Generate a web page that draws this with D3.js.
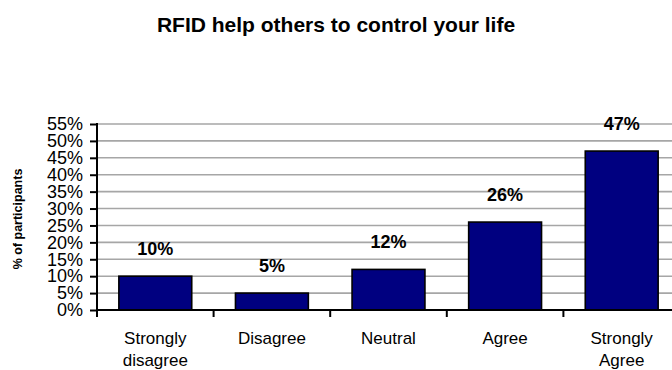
<!DOCTYPE html>
<html>
<head>
<meta charset="utf-8">
<script src="https://cdn.jsdelivr.net/npm/d3@7"></script>
<style>
  html, body { margin: 0; padding: 0; background: #fff; }
  svg { display: block; font-family: "Liberation Sans", Arial, sans-serif; }
</style>
</head>
<body>
<svg id="chart" width="672" height="370"></svg>
<script>
// Survey answers and the share of participants for each
const categories = [["Strongly", "disagree"], ["Disagree"], ["Neutral"], ["Agree"], ["Strongly", "Agree"]];
const values = [10, 5, 12, 26, 47];
const yTicks = [0, 5, 10, 15, 20, 25, 30, 35, 40, 45, 50, 55];
const title = "RFID help others to control your life";
const yTitle = "% of participants";

const svg = d3.select("#chart");
const plotLeft = 97, plotRight = 680, plotTop = 124, plotBottom = 310;
const keys = categories.map(c => c.join(" "));

const x = d3.scaleBand().domain(keys).range([plotLeft, plotRight])
  .paddingInner(0.375).paddingOuter(0.1875);
const y = d3.scaleLinear().domain([0, 55]).range([plotBottom, plotTop]);

// title
svg.append("text")
  .attr("x", 336).attr("y", 32)
  .attr("text-anchor", "middle")
  .attr("font-size", 21).attr("font-weight", "bold")
  .text(title);

// horizontal gridlines
svg.append("g").selectAll("line").data(yTicks.filter(d => d > 0)).join("line")
  .attr("x1", plotLeft).attr("x2", plotRight)
  .attr("y1", d => y(d)).attr("y2", d => y(d))
  .attr("stroke", "#a6a6a6").attr("stroke-width", 1.6);

// bars
svg.append("g").selectAll("rect").data(values).join("rect")
  .attr("x", (d, i) => x(keys[i]))
  .attr("width", x.bandwidth())
  .attr("y", d => y(d))
  .attr("height", d => y(0) - y(d))
  .attr("fill", "#000080")
  .attr("stroke", "#000").attr("stroke-width", 1.6);

// value labels above bars
svg.append("g").selectAll("text").data(values).join("text")
  .attr("x", (d, i) => x(keys[i]) + x.bandwidth() / 2)
  .attr("y", d => y(d) - 21)
  .attr("text-anchor", "middle")
  .attr("font-size", 18).attr("font-weight", "bold")
  .text(d => d + "%");

// y axis
const yAxis = svg.append("g")
  .attr("transform", `translate(${plotLeft},0)`)
  .call(d3.axisLeft(y).tickValues(yTicks).tickFormat(d => d + "%").tickSize(7).tickPadding(7));
yAxis.select(".domain").remove();
yAxis.selectAll(".tick line").attr("stroke", "#000").attr("stroke-width", 2);
yAxis.selectAll(".tick text").attr("font-size", 18).attr("fill", "#000")
  .attr("font-family", "'Liberation Sans', Arial, sans-serif");
svg.append("line")
  .attr("x1", plotLeft).attr("x2", plotLeft)
  .attr("y1", y(55) - 1).attr("y2", plotBottom + 7)
  .attr("stroke", "#000").attr("stroke-width", 2);

// x axis line and category boundary ticks
svg.append("line")
  .attr("x1", plotLeft).attr("x2", plotRight)
  .attr("y1", plotBottom).attr("y2", plotBottom)
  .attr("stroke", "#000").attr("stroke-width", 2);
const bounds = keys.slice(1).map(k => x(k) + x.bandwidth() / 2 - x.step() / 2);
svg.append("g").selectAll("line").data(bounds).join("line")
  .attr("x1", d => d).attr("x2", d => d)
  .attr("y1", plotBottom).attr("y2", plotBottom + 7)
  .attr("stroke", "#000").attr("stroke-width", 2);

// category labels, wrapped onto two lines where needed
const cat = svg.append("g").selectAll("text").data(categories).join("text")
  .attr("x", (d, i) => x(keys[i]) + x.bandwidth() / 2)
  .attr("y", 344)
  .attr("text-anchor", "middle")
  .attr("font-size", 17);
cat.selectAll("tspan").data(d => d).join("tspan")
  .attr("x", function () { return this.parentNode.getAttribute("x"); })
  .attr("dy", (d, i) => i === 0 ? 0 : 22)
  .text(d => d);

// y axis title
svg.append("text")
  .attr("transform", `translate(22,219) rotate(-90)`)
  .attr("text-anchor", "middle")
  .attr("font-size", 12.5).attr("font-weight", "bold")
  .text(yTitle);
</script>
</body>
</html>
